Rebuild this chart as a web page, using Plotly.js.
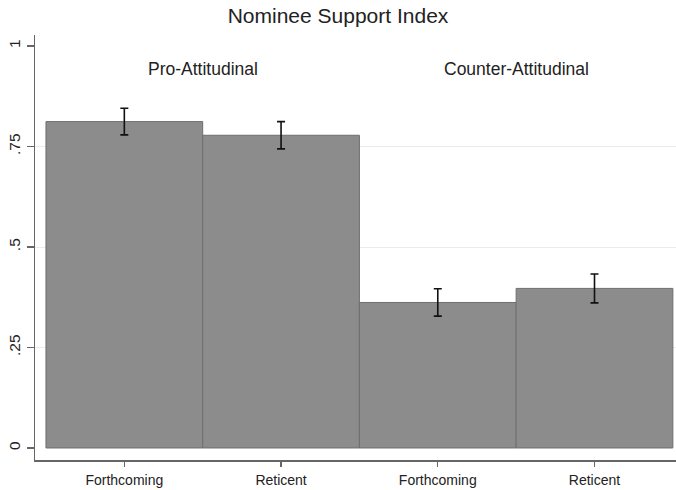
<!DOCTYPE html>
<html>
<head>
<meta charset="utf-8">
<script src="https://cdn.plot.ly/plotly-3.0.1.min.js"></script>
<style>html,body{margin:0;padding:0;background:#fff;}#chart{width:676px;height:490px;}</style>
</head>
<body>
<div id="chart"></div>
<script>
const positions = [0, 1, 2, 3];
const tickLabels = ["Forthcoming", "Reticent", "Forthcoming", "Reticent"];
const supportIndex = [0.812, 0.778, 0.362, 0.397];
const errorHalf = [0.033, 0.034, 0.034, 0.036];
const groupNames = ["Pro-Attitudinal", "Counter-Attitudinal"];
const groupCenters = [0.5, 2.5];
const yTicks = [0, 0.25, 0.5, 0.75, 1];
const yTickText = ["0", ".25", ".5", ".75", "1"];
const gridTicks = [0.25, 0.5, 0.75];

const font = "Liberation Sans, Arial, Helvetica, sans-serif";

const traces = [{
  type: "bar",
  x: positions,
  y: supportIndex,
  width: 1,
  marker: {color: "#8c8c8c", line: {color: "#6e6e6e", width: 1}},
  error_y: {type: "data", array: errorHalf, visible: true, color: "#111", thickness: 1.6, width: 4},
  hoverinfo: "skip"
}, {
  type: "scatter", x: [positions[0]], y: [0], yaxis: "y2",
  mode: "markers", marker: {opacity: 0}, hoverinfo: "skip", showlegend: false
}];

const layout = {
  width: 676, height: 490,
  margin: {l: 35, r: 0, t: 35, b: 30},
  paper_bgcolor: "#fff", plot_bgcolor: "rgba(0,0,0,0)",
  showlegend: false,
  title: {text: "Nominee Support Index", x: 0.5, xanchor: "center", y: 0.984, yanchor: "top",
          font: {family: font, size: 21, color: "#222"}},
  font: {family: font, color: "#222"},
  xaxis: {
    range: [-0.57, 3.52], tickmode: "array", tickvals: positions, ticktext: tickLabels,
    showline: true, linecolor: "#666", linewidth: 1.5, ticks: "outside", ticklen: 5,
    tickcolor: "#666", tickwidth: 1.2, showgrid: false, zeroline: false, ticklabelstandoff: 2,
    tickfont: {family: font, size: 14, color: "#222"}
  },
  yaxis: {
    range: [-0.0299, 1.0274], tickmode: "array", tickvals: yTicks, ticktext: yTickText,
    showline: true, linecolor: "#666", linewidth: 1.5, ticks: "outside", ticklen: 7,
    tickcolor: "#666", tickwidth: 1.2, showgrid: false, zeroline: false, tickangle: -90,
    tickfont: {family: font, size: 15.5, color: "#222"}, layer: "above traces"
  },
  yaxis2: {
    overlaying: "y", matches: "y", tickmode: "array", tickvals: gridTicks, showticklabels: false,
    showgrid: true, gridcolor: "#ececec", gridwidth: 1, zeroline: false, showline: false,
    layer: "below traces"
  },
  annotations: groupNames.map((t, i) => ({
    text: t, x: groupCenters[i], y: 0.943, xref: "x", yref: "y", showarrow: false,
    font: {family: font, size: 17.5, color: "#222"}
  })),
  bargap: 0
};

Plotly.newPlot("chart", traces, layout, {displayModeBar: false, staticPlot: true});
</script>
</body>
</html>
